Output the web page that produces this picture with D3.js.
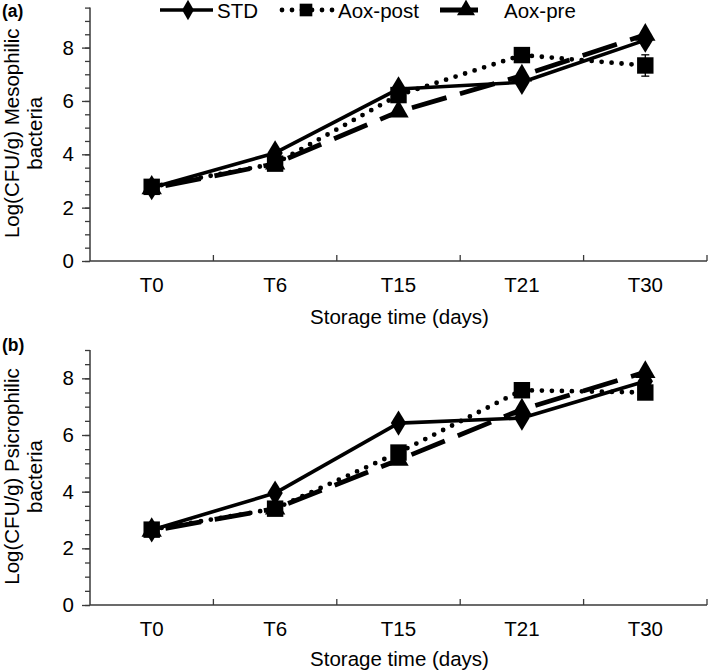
<!DOCTYPE html>
<html>
<head>
<meta charset="utf-8">
<script src="https://cdn.jsdelivr.net/npm/d3@7"></script>
<style>
  html, body { margin: 0; padding: 0; background: #fff; }
  svg { display: block; font-family: "Liberation Sans", Arial, sans-serif; }
</style>
</head>
<body>
<svg id="chart" width="709" height="670"></svg>
<script>
// ---------- data ----------
const categories = ["T0", "T6", "T15", "T21", "T30"];
const seriesNames = ["STD", "Aox-post", "Aox-pre"];

// (a) Mesophilic bacteria, Log(CFU/g)
const mesoSTD  = [2.75, 4.05, 6.45, 6.70, 8.28];
const mesoPost = [2.78, 3.65, 6.22, 7.72, 7.33];
const mesoPre  = [2.72, 3.65, 5.60, 6.95, 8.48];
const mesoSTDErr  = [0.05, 0.10, 0.10, 0.10, 0.20];
const mesoPostErr = [0.05, 0.10, 0.10, 0.10, 0.40];
const mesoPreErr  = [0.05, 0.10, 0.10, 0.10, 0.10];

// (b) Psicrophilic bacteria, Log(CFU/g)
const psicSTD  = [2.65, 3.95, 6.42, 6.60, 7.90];
const psicPost = [2.66, 3.40, 5.38, 7.58, 7.50];
const psicPre  = [2.62, 3.40, 5.12, 6.90, 8.22];
const psicSTDErr  = [0.05, 0.15, 0.10, 0.10, 0.15];
const psicPostErr = [0.05, 0.10, 0.15, 0.10, 0.15];
const psicPreErr  = [0.05, 0.10, 0.10, 0.10, 0.10];

const yTicksMajor = [0, 2, 4, 6, 8];
const xTitle = "Storage time (days)";

// ---------- drawing ----------
const svg = d3.select("#chart");
const AXIS = "#3a3a3a";
const FONT = 20.5;

const styles = {
  "STD":      { dash: null,     width: 3.6, cap: "butt",  marker: "diamond",  size: 185 },
  "Aox-post": { dash: "0 10",   width: 4.8, cap: "round", marker: "square",   size: 270 },
  "Aox-pre":  { dash: "36 14",  width: 4.8, cap: "butt",  marker: "triangle", size: 180, offset: 36 }
};
const symbolType = { diamond: d3.symbolDiamond, square: d3.symbolSquare, triangle: d3.symbolTriangle };

function panel(cfg) {
  const g = svg.append("g");
  const x = d3.scaleBand().domain(categories).range([cfg.x0, cfg.x1]).paddingInner(0).paddingOuter(0);
  const y = d3.scaleLinear().domain([0, cfg.ymax]).range([cfg.yBottom, cfg.yTop]);

  // y axis: minor ticks every 0.5, major every 2
  const minor = d3.range(0, cfg.ymax + 0.001, 0.5);
  g.append("g").attr("transform", `translate(${cfg.x0},0)`)
    .call(d3.axisLeft(y).tickValues(minor).tickSize(5).tickFormat(""))
    .call(a => a.select(".domain").remove())
    .call(a => a.selectAll("line").attr("stroke", AXIS).attr("stroke-width", 1.3));
  g.append("g").attr("transform", `translate(${cfg.x0},0)`)
    .call(d3.axisLeft(y).tickValues(yTicksMajor).tickSize(8).tickPadding(8).tickFormat(d3.format("d")))
    .call(a => a.select(".domain").remove())
    .call(a => a.selectAll("line").attr("stroke", AXIS).attr("stroke-width", 1.3))
    .call(a => a.selectAll("text").attr("font-size", FONT).attr("fill", "#000")
      .attr("font-family", "Liberation Sans, Arial, sans-serif"));
  g.append("line").attr("x1", cfg.x0).attr("x2", cfg.x0)
    .attr("y1", y(0)).attr("y2", y(cfg.ymax)).attr("stroke", AXIS).attr("stroke-width", 1.5);

  // x axis: category labels, boundary ticks pointing up
  g.append("g").attr("transform", `translate(0,${cfg.yBottom})`)
    .call(d3.axisBottom(x).tickSize(0).tickPadding(16))
    .call(a => a.select(".domain").remove())
    .call(a => a.selectAll("text").attr("font-size", FONT).attr("fill", "#000")
      .attr("font-family", "Liberation Sans, Arial, sans-serif"));
  g.append("line").attr("x1", cfg.x0).attr("x2", cfg.x1)
    .attr("y1", cfg.yBottom).attr("y2", cfg.yBottom).attr("stroke", AXIS).attr("stroke-width", 1.5);
  const bounds = categories.slice(1).map(c => x(c)).concat([cfg.x1]);
  g.selectAll(".xb").data(bounds).join("line")
    .attr("x1", d => d).attr("x2", d => d)
    .attr("y1", cfg.yBottom).attr("y2", cfg.yBottom - 6)
    .attr("stroke", AXIS).attr("stroke-width", 1.3);

  // titles
  g.append("text").attr("x", (cfg.x0 + cfg.x1) / 2 + 1).attr("y", cfg.xTitleY)
    .attr("text-anchor", "middle").attr("dominant-baseline", "central")
    .attr("font-size", FONT).text(xTitle);
  const yc = (cfg.yTop + cfg.yBottom) / 2 - 1;
  cfg.yTitle.forEach((line, i) => {
    g.append("text")
      .attr("transform", `translate(${11 + i * 23},${yc}) rotate(-90)`)
      .attr("text-anchor", "middle").attr("dominant-baseline", "central")
      .attr("font-size", FONT).text(line);
  });
  g.append("text").attr("x", 2).attr("y", cfg.labelY).attr("dominant-baseline", "central")
    .attr("font-size", 17.5).attr("font-weight", "bold").text(cfg.label);

  const cx = c => x(c) + x.bandwidth() / 2;
  // series drawn: Aox-pre, STD, Aox-post
  const order = ["Aox-pre", "STD", "Aox-post"];
  order.forEach(name => {
    const st = styles[name];
    const vals = cfg.series[name], errs = cfg.errors[name];
    const pts = categories.map((c, i) => [cx(c), y(vals[i])]);
    // each segment drawn separately so the dash pattern restarts at every point
    for (let i = 0; i < pts.length - 1; i++) {
      g.append("path")
        .attr("d", d3.line()([pts[i], pts[i + 1]]))
        .attr("fill", "none").attr("stroke", "#000")
        .attr("stroke-width", st.width).attr("stroke-linecap", st.cap)
        .attr("stroke-dasharray", st.dash).attr("stroke-dashoffset", st.offset || 0);
    }
    // error bars
    categories.forEach((c, i) => {
      const xx = cx(c), y1 = y(vals[i] - errs[i]), y2 = y(vals[i] + errs[i]);
      g.append("line").attr("x1", xx).attr("x2", xx).attr("y1", y1).attr("y2", y2)
        .attr("stroke", "#000").attr("stroke-width", 1.3);
      [y1, y2].forEach(yy => g.append("line").attr("x1", xx - 4).attr("x2", xx + 4)
        .attr("y1", yy).attr("y2", yy).attr("stroke", "#000").attr("stroke-width", 1.3));
    });
    // markers
    const sym = d3.symbol().type(symbolType[st.marker]).size(st.size);
    g.selectAll(null).data(pts).join("path")
      .attr("d", sym)
      .attr("transform", d => st.marker === "diamond"
        ? `translate(${d[0]},${d[1]}) scale(1.05,1)` : `translate(${d[0]},${d[1]})`)
      .attr("fill", "#000");
  });
}

panel({
  x0: 90, x1: 707, yTop: 7.6, yBottom: 261, ymax: 9.5,
  xTitleY: 316, labelY: 11, label: "(a)",
  yTitle: ["Log(CFU/g) Mesophilic", "bacteria"],
  series: { "STD": mesoSTD, "Aox-post": mesoPost, "Aox-pre": mesoPre },
  errors: { "STD": mesoSTDErr, "Aox-post": mesoPostErr, "Aox-pre": mesoPreErr }
});
panel({
  x0: 90, x1: 707, yTop: 350, yBottom: 605, ymax: 9,
  xTitleY: 658, labelY: 345, label: "(b)",
  yTitle: ["Log(CFU/g) Psicrophilic", "bacteria"],
  series: { "STD": psicSTD, "Aox-post": psicPost, "Aox-pre": psicPre },
  errors: { "STD": psicSTDErr, "Aox-post": psicPostErr, "Aox-pre": psicPreErr }
});

// ---------- legend ----------
const legendY = 10;
const legendItems = [
  { name: seriesNames[0], lx0: 160, lx1: 213, mx: 188, tx: 217 },
  { name: seriesNames[1], lx0: 282, lx1: 335, mx: 306, tx: 338 },
  { name: seriesNames[2], lx0: 440, lx1: 478, mx: 466, tx: 504 }
];
const lg = svg.append("g");
legendItems.forEach(it => {
  const st = styles[it.name];
  lg.append("line").attr("x1", it.lx0).attr("x2", it.lx1).attr("y1", legendY).attr("y2", legendY)
    .attr("stroke", "#000").attr("stroke-width", st.width).attr("stroke-linecap", st.cap)
    .attr("stroke-dasharray", it.name === "Aox-pre" ? null : st.dash);
  const sizes = { diamond: 120, square: 160, triangle: 140 };
  lg.append("path")
    .attr("d", d3.symbol().type(symbolType[st.marker]).size(sizes[st.marker]))
    .attr("transform", `translate(${it.mx},${legendY})`).attr("fill", "#000");
  lg.append("text").attr("x", it.tx).attr("y", legendY).attr("dominant-baseline", "central")
    .attr("font-size", FONT).text(it.name);
});
</script>
</body>
</html>
